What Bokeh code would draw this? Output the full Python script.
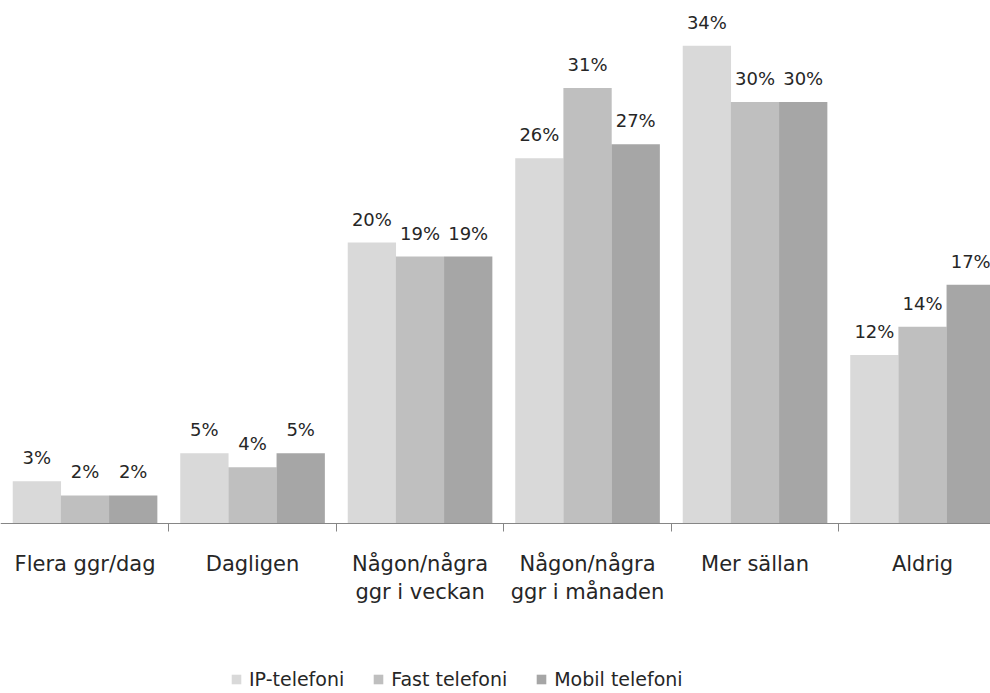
from bokeh.plotting import figure
from bokeh.models import (ColumnDataSource, Range1d, FixedTicker, LabelSet, Legend, LegendItem)
from bokeh.core.properties import value
from bokeh.transform import dodge
from bokeh.embed import file_html
from bokeh.resources import INLINE

categories = ["Flera ggr/dag", "Dagligen", "Någon/några\nggr i veckan",
              "Någon/några\nggr i månaden", "Mer sällan", "Aldrig"]
series = ["IP-telefoni", "Fast telefoni", "Mobil telefoni"]
ip_values = [3, 5, 20, 26, 34, 12]
fast_values = [2, 4, 19, 31, 30, 14]
mobil_values = [2, 5, 19, 27, 30, 17]
colors = ["#d9d9d9", "#bfbfbf", "#a6a6a6"]

FONT = "DejaVu Sans"
TXT = "#262626"

idx = list(range(len(categories)))
src = ColumnDataSource(dict(
    x=idx,
    ip=ip_values, fast=fast_values, mobil=mobil_values,
    ip_l=[f"{v}%" for v in ip_values],
    fast_l=[f"{v}%" for v in fast_values],
    mobil_l=[f"{v}%" for v in mobil_values],
))

cat_px = 167.5
W, H = 990, 693
base = 523          # pixel row of the zero line
px_per_pct = 14.05
start = -0.5 - 0.8 / cat_px
p = figure(width=W, height=H, output_backend="svg", toolbar_location=None,
           x_range=Range1d(start, start + W / cat_px),
           y_range=Range1d(-(H - base) / px_per_pct, base / px_per_pct),
           y_axis_location=None, min_border_left=0, min_border_right=0, min_border_top=0,
           min_border_bottom=0, outline_line_color=None, background_fill_color="white")
p.grid.visible = False

offs = [-0.2875, 0.0, 0.2875]
keys = ["ip", "fast", "mobil"]
renderers = []
for k, o, c in zip(keys, offs, colors):
    r = p.vbar(x=dodge("x", o, range=p.x_range), top=k, bottom=0, width=0.2884,
               source=src, fill_color=c, line_color=None)
    renderers.append(r)
    lab = LabelSet(x=dodge("x", o, range=p.x_range), y=k, text=k + "_l", source=src,
                   text_align="center", text_baseline="alphabetic", y_offset=17,
                   text_font=value(FONT), text_font_size=value("18px"), text_color=TXT)
    p.add_layout(lab)

ax = p.xaxis[0]
ax.fixed_location = 0
ax.ticker = FixedTicker(ticks=idx, minor_ticks=[i + 0.5 for i in idx[:-1]])
ax.major_label_overrides = {i: c for i, c in zip(idx, categories)}
ax.major_tick_out = 0
ax.major_tick_in = 0
ax.minor_tick_out = 8
ax.minor_tick_in = 0
ax.minor_tick_line_color = "#868686"
ax.axis_line_color = "#868686"
ax.major_label_text_font = FONT
ax.major_label_text_font_size = "21px"
ax.major_label_text_color = TXT
ax.major_label_standoff = 20

legend = Legend(items=[LegendItem(label=s, renderers=[r]) for s, r in zip(series, renderers)],
                orientation="horizontal", location=(230, 3), glyph_width=12, glyph_height=12,
                label_standoff=7, spacing=28, padding=0, margin=0,
                label_text_font=FONT, label_text_font_size="19px", label_text_color=TXT,
                border_line_color=None, background_fill_alpha=0)
p.add_layout(legend)

open("out.html", "w").write(file_html(p, INLINE))
